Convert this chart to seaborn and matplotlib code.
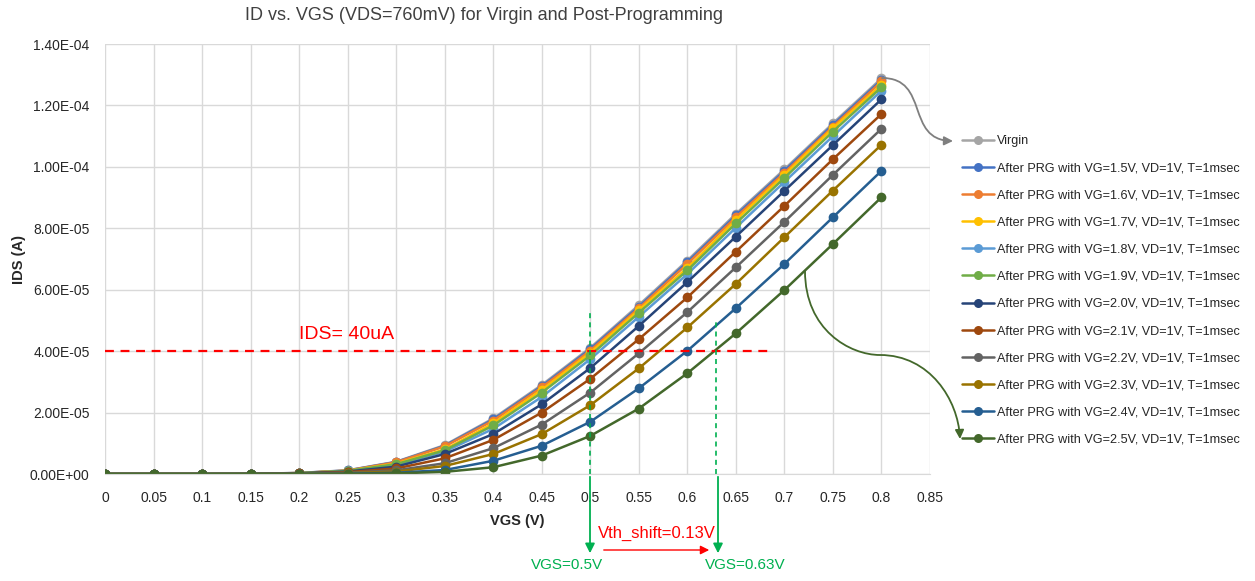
import numpy as np
import pandas as pd
import matplotlib.pyplot as plt
import seaborn as sns
from matplotlib.path import Path
from matplotlib.patches import FancyArrowPatch
from matplotlib.transforms import Affine2D
from matplotlib.ticker import FuncFormatter

# Dados (IDS em uA)
vgs = [0, 0.05, 0.1, 0.15, 0.2, 0.25, 0.3, 0.35, 0.4, 0.45, 0.5, 0.55, 0.6, 0.65, 0.7, 0.75, 0.8]

ids_virgin = [0, 0, 0, 0.05, 0.35, 1.2, 4.0, 9.4, 18.1, 29.0, 41.1, 55.0, 69.5, 84.7, 99.2, 114.2, 128.8]
ids_vg15 = [0, 0, 0, 0.05, 0.33, 1.15, 3.9, 9.2, 17.8, 28.6, 40.7, 54.5, 69.0, 84.2, 98.7, 113.7, 128.3]
ids_vg16 = [0, 0, 0, 0.04, 0.31, 1.1, 3.8, 9.0, 17.4, 28.2, 40.2, 54.0, 68.4, 83.6, 98.1, 113.1, 127.8]
ids_vg17 = [0, 0, 0, 0.04, 0.29, 1.05, 3.4, 8.0, 16.5, 27.4, 39.5, 53.4, 67.1, 82.7, 97.4, 112.6, 126.7]
ids_vg18 = [0, 0, 0, 0.03, 0.26, 0.95, 2.9, 7.3, 14.7, 25.1, 37.4, 51.2, 65.1, 80.2, 95.1, 110.0, 124.8]
ids_vg19 = [0, 0, 0, 0.04, 0.28, 1.0, 3.2, 7.7, 15.8, 26.5, 38.6, 52.5, 66.3, 81.6, 96.4, 111.5, 125.9]
ids_vg20 = [0, 0, 0, 0.03, 0.22, 0.8, 2.4, 6.5, 13.0, 22.7, 34.5, 48.2, 62.5, 77.3, 92.2, 107.1, 122.0]
ids_vg21 = [0, 0, 0, 0.02, 0.18, 0.6, 1.8, 5.1, 11.1, 20.0, 31.0, 43.9, 57.5, 72.4, 87.3, 102.5, 117.2]
ids_vg22 = [0, 0, 0, 0.02, 0.12, 0.4, 1.2, 3.5, 8.4, 16.1, 26.5, 39.3, 52.7, 67.3, 82.1, 97.4, 112.4]
ids_vg23 = [0, 0, 0, 0.01, 0.08, 0.25, 0.8, 2.6, 6.5, 13.0, 22.4, 34.4, 47.7, 61.9, 77.1, 92.3, 107.2]
ids_vg24 = [0, 0, 0, 0.01, 0.05, 0.12, 0.4, 1.3, 4.3, 9.2, 17.0, 27.9, 40.1, 54.0, 68.4, 83.6, 98.7]
ids_vg25 = [0, 0, 0, 0.0, 0.02, 0.05, 0.2, 0.7, 2.2, 6.0, 12.4, 21.3, 32.8, 45.8, 59.9, 74.9, 90.1]

series_names = ['Virgin'] + ['After PRG with VG=%sV, VD=1V, T=1msec' % v
                             for v in ['1.5', '1.6', '1.7', '1.8', '1.9', '2.0', '2.1', '2.2', '2.3', '2.4', '2.5']]
series_values = [ids_virgin, ids_vg15, ids_vg16, ids_vg17, ids_vg18, ids_vg19,
                 ids_vg20, ids_vg21, ids_vg22, ids_vg23, ids_vg24, ids_vg25]
cores = ['#A5A5A5', '#4472C4', '#ED7D31', '#FFC000', '#5B9BD5', '#70AD47',
         '#264478', '#9E480E', '#636363', '#997300', '#255E91', '#43682B']

ids_ref = 40e-6
vth_antes = 0.5
vth_depois = 0.63

# Montar o dataframe
linhas = []
for nome, valores in zip(series_names, series_values):
    for x, y in zip(vgs, valores):
        linhas.append({'vgs': x, 'ids': y * 1e-6, 'serie': nome})
df = pd.DataFrame(linhas)

sns.set_style('whitegrid')
plt.rcParams['font.family'] = ['Liberation Sans', 'DejaVu Sans']

fig = plt.figure(figsize=(12.55, 5.81), dpi=100)
ax = fig.add_axes([105 / 1255, 1 - 474 / 581, (930 - 105) / 1255, (474 - 44) / 581])

sns.lineplot(data=df, x='vgs', y='ids', hue='serie', hue_order=series_names,
             palette=cores, marker='o', markersize=7, markeredgewidth=0,
             linewidth=1.8, ax=ax, legend=True)

ax.set_xlim(0, 0.85)
ax.set_ylim(0, 1.4e-4)
ax.set_xticks(np.arange(0, 0.851, 0.05))
ax.set_xticklabels(['%g' % round(t, 2) for t in np.arange(0, 0.851, 0.05)])
ax.set_yticks(np.arange(0, 1.41e-4, 2e-5))
ax.yaxis.set_major_formatter(FuncFormatter(lambda v, p: '%.2E' % v if v != 0 else '0.00E+00'))
ax.tick_params(axis='y', labelsize=10, length=0, pad=11, colors='#262626')
ax.tick_params(axis='x', labelsize=10, length=0, pad=12, colors='#262626')
ax.grid(True, color='#D9D9D9', linewidth=1)
for lado in ['left', 'right', 'top']:
    ax.spines[lado].set_visible(False)
ax.spines['bottom'].set_color('#D9D9D9')
ax.set_xlabel('VGS (V)', fontsize=10.5, fontweight='bold', color='#262626', labelpad=7)
ax.set_ylabel('IDS (A)', fontsize=10.5, fontweight='bold', color='#262626', labelpad=3)

fig.text(484 / 1255, 1 - 16 / 581, 'ID vs. VGS (VDS=760mV) for Virgin and Post-Programming',
         ha='center', va='center', fontsize=13, color='#404040')

# Legenda
handles, labels = ax.get_legend_handles_labels()
for h in handles:
    h.set_markersize(6.5)
ax.legend(handles, labels, loc='upper left', bbox_to_anchor=(962 / 1255, 1 - 135 / 581),
          bbox_transform=fig.transFigure, frameon=False, fontsize=9.1,
          labelspacing=1.2, handlelength=2.55, handletextpad=0.25, borderpad=0,
          borderaxespad=0)

# Linha IDS = 40uA
ax.plot([0, 0.685], [ids_ref, ids_ref], color='#FF0000', linestyle=(0, (4, 3)), linewidth=1.6)
ax.text(0.2, 4.25e-5, 'IDS= 40uA', color='#FF0000', fontsize=14, ha='left', va='bottom')

# Linhas verticais do Vth
ax.plot([vth_antes, vth_antes], [0, 5.25e-5], color='#00B050', linestyle=(0, (3, 2.5)), linewidth=1.2)
ax.plot([vth_depois, vth_depois], [0, 4.95e-5], color='#00B050', linestyle=(0, (3, 2.5)), linewidth=1.2)

px = Affine2D().scale(1 / 1255, 1 / 581) + fig.transFigure
def P(x, y):
    return (x, 581 - y)

for xv in [590, 718]:
    fig.patches.append(FancyArrowPatch(P(xv, 474), P(xv, 556), transform=px,
                                       arrowstyle='-|>', mutation_scale=14,
                                       color='#00B050', linewidth=1.3))
fig.text(567 / 1255, 1 - 565 / 581, 'VGS=0.5V', color='#00B050', fontsize=11, ha='center', va='center')
fig.text(745 / 1255, 1 - 565 / 581, 'VGS=0.63V', color='#00B050', fontsize=11, ha='center', va='center')

fig.patches.append(FancyArrowPatch(P(601, 550), P(712, 550), transform=px,
                                   arrowstyle='-|>', mutation_scale=13,
                                   color='#FF0000', linewidth=1))
fig.text(657 / 1255, 1 - 533 / 581, 'Vth_shift=0.13V', color='#FF0000', fontsize=12, ha='center', va='center')

# Setas curvas
caminho_cinza = Path([P(882, 78), P(930, 78), P(905, 140), P(953, 141)],
                     [Path.MOVETO, Path.CURVE4, Path.CURVE4, Path.CURVE4])
fig.patches.append(FancyArrowPatch(path=caminho_cinza, transform=px, arrowstyle='-|>',
                                   mutation_scale=13, color='#7F7F7F', linewidth=1.3))
caminho_verde = Path([P(805, 271), P(805, 330), P(850, 355), P(880, 355),
                      P(930, 355), P(958, 400), P(960, 439)],
                     [Path.MOVETO, Path.CURVE4, Path.CURVE4, Path.CURVE4,
                      Path.CURVE4, Path.CURVE4, Path.CURVE4])
fig.patches.append(FancyArrowPatch(path=caminho_verde, transform=px, arrowstyle='-|>',
                                   mutation_scale=13, color='#43682B', linewidth=1.3))

plt.savefig('out.png', dpi=100)
